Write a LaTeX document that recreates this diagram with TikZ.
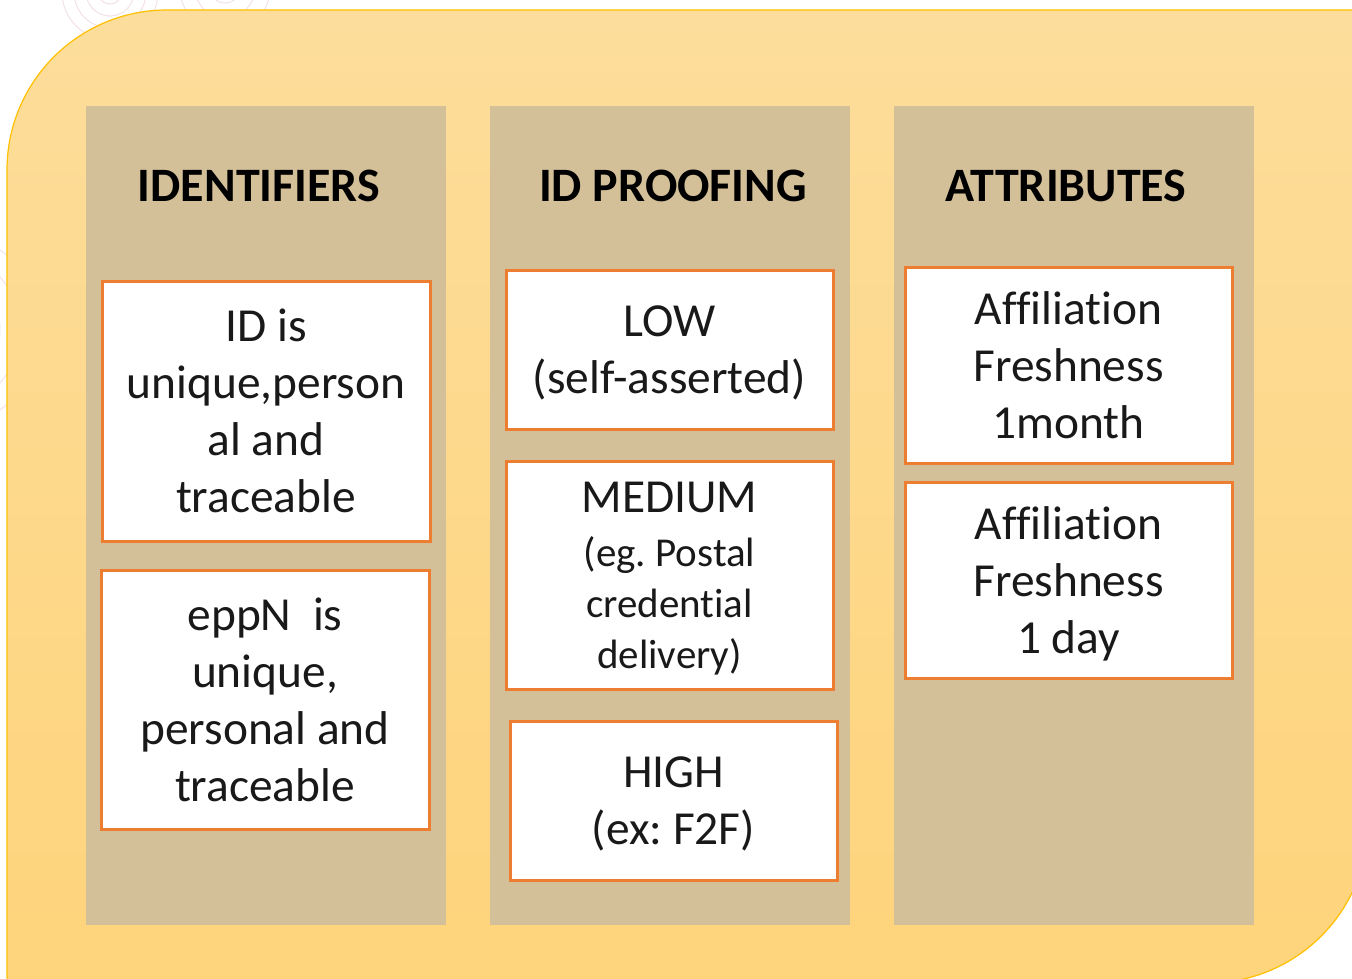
\documentclass[tikz,border=0pt]{standalone}
\usepackage{fontspec}
\setmainfont{Carlito}[Ligatures=NoCommon]
\usepackage{tikz}
\usetikzlibrary{positioning,calc}
\usepackage{xcolor}
\definecolor{Panel}{HTML}{FDDD9B}
\definecolor{PanelLow}{HTML}{FED47B}
\definecolor{PanelEdge}{HTML}{FFC000}
\definecolor{Column}{HTML}{D3BF98}
\definecolor{BoxEdge}{HTML}{ED7D31}
\definecolor{Swirl}{HTML}{F2E2E6}
\newcommand{\cardsmall}{\fontsize{41}{51}\selectfont}
\frenchspacing

\begin{document}
\begin{tikzpicture}[x=1pt,y=-1pt,
  column/.style={fill=Column,draw=none,minimum width=360pt,minimum height=819pt,inner sep=0pt},
  heading/.style={font=\bfseries\fontsize{48}{57}\selectfont,text=black},
  card/.style={draw=BoxEdge,line width=3pt,fill=white,align=center,inner sep=0pt,text depth=0pt,
    font=\fontsize{47.4}{57}\selectfont\frenchspacing,text=black!90}]
\clip (0,0) rectangle (1352,979);
\useasboundingbox (0,0) rectangle (1352,979);
\fill[white] (0,0) rectangle (1352,979);
% faint swirls behind the panel
\foreach \r in {12,24,36,48} {\draw[Swirl,line width=1pt] (110,-8) circle[radius=\r];}
\foreach \r in {15,30,45} {\draw[Swirl,line width=1pt] (225,-12) circle[radius=\r];}
\foreach \r in {60,80,100} {\draw[Swirl,line width=1pt] (-60,330) circle[radius=\r];}
% panel
\shade[top color=Panel,bottom color=PanelLow,draw=PanelEdge,line width=1.2pt]
  (7,990) -- (7,170) arc[start angle=180,end angle=270,radius=160] -- (1368,10)
  -- (1368,823) arc[start angle=0,end angle=90,radius=160] -- (7,983) -- cycle;
% columns
\node[column] (idcol) at (266,515.5) {};
\node[column] (proofcol) at (670,515.5) {};
\node[column] (attrcol) at (1074,515.5) {};
\node[heading] (idhead) at (259,186) {IDENTIFIERS};
\node[heading] (proofhead) at (673,186) {ID PROOFING};
\node[heading] (attrhead) at (1066,186) {ATTRIBUTES};
% identifiers
\node[card,minimum width=328pt,minimum height=260pt] (idunique) at (266,411)
  {ID is\\unique,person\\al and\\traceable};
\node[card,minimum width=328pt,minimum height=259pt] (eppn) at (265,699.5)
  {eppN~~is\\unique,\\personal and\\traceable};
% id proofing
\node[card,minimum width=327pt,minimum height=159pt] (low) at (669.5,349.5)
  {LOW\\(self-asserted)};
\node[card,minimum width=327pt,minimum height=228pt] (medium) at (669.5,575)
  {MEDIUM\\[-3pt]\cardsmall (eg. Postal\\[-6pt]\cardsmall credential\\[-6pt]\cardsmall delivery)};
\node[card,minimum width=327pt,minimum height=159pt] (high) at (673.5,800.5)
  {HIGH\\(ex: F2F)};
% attributes
\node[card,minimum width=327pt,minimum height=196pt] (month) at (1068.5,365)
  {Affiliation\\Freshness\\1month};
\node[card,minimum width=327pt,minimum height=196pt] (day) at (1068.5,580)
  {Affiliation\\Freshness\\1 day};
\end{tikzpicture}
\end{document}
